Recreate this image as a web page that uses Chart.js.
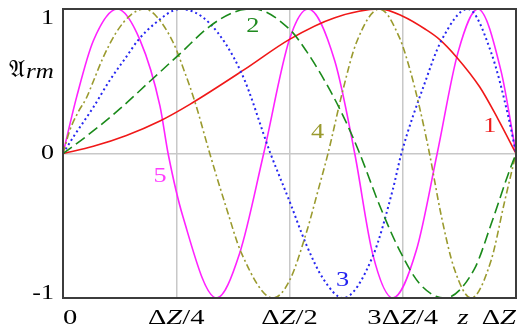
<!DOCTYPE html>
<html>
<head>
<meta charset="utf-8">
<script src="https://cdn.jsdelivr.net/npm/chart.js@4.4.1/dist/chart.umd.min.js"></script>
<style>
  html, body { margin: 0; padding: 0; background: #fff; }
  #wrap { width: 522px; height: 328px; }
</style>
</head>
<body>
<div id="wrap"><canvas id="modes" width="522" height="328"></canvas></div>
<script>
// ── DATA: z as fraction of ΔZ, value of mode shape ──
const redZ = [0, 0.067, 0.14, 0.214, 0.28, 0.4, 0.5, 0.6, 0.7, 0.75, 0.8, 0.831, 0.868, 0.92, 0.96, 1];
const redV = [0, 0.05, 0.125, 0.225, 0.34, 0.58, 0.79, 0.94, 1, 0.95, 0.86, 0.79, 0.67, 0.46, 0.24, 0];

const greenZ = [0, 0.052, 0.126, 0.192, 0.258, 0.324, 0.379, 0.42, 0.5, 0.537, 0.589, 0.626, 0.655, 0.699, 0.743, 0.787, 0.842, 0.908, 0.945, 0.982, 1];
const greenV = [0, 0.12, 0.31, 0.5, 0.69, 0.88, 0.98, 1, 0.86, 0.71, 0.44, 0.21, 0, -0.36, -0.67, -0.9, -1, -0.8, -0.49, -0.15, 0];

const blueZ = [0, 0.023, 0.067, 0.104, 0.14, 0.166, 0.203, 0.258, 0.324, 0.395, 0.458, 0.5, 0.537, 0.575, 0.618, 0.684, 0.728, 0.747, 0.8, 0.835, 0.894, 0.945, 0.982, 1];
const blueV = [0, 0.115, 0.32, 0.51, 0.67, 0.785, 0.9, 1, 0.9, 0.55, 0, -0.33, -0.63, -0.87, -1, -0.71, -0.25, 0, 0.5, 0.78, 1, 0.7, 0.27, 0];

const oliveZ = [0, 0.015, 0.034, 0.051, 0.067, 0.088, 0.118, 0.15, 0.18, 0.203, 0.243, 0.269, 0.291, 0.324, 0.361, 0.394, 0.464, 0.5, 0.537, 0.567, 0.585, 0.618, 0.648, 0.699, 0.743, 0.765, 0.787, 0.809, 0.835, 0.864, 0.901, 0.945, 0.975, 1];
const oliveV = [0, 0.16, 0.29, 0.38, 0.5, 0.66, 0.84, 0.96, 1, 0.96, 0.77, 0.56, 0.36, 0, -0.38, -0.69, -1, -0.88, -0.55, -0.21, 0, 0.44, 0.77, 1, 0.8, 0.59, 0.32, 0, -0.43, -0.8, -1, -0.74, -0.33, 0];

const magentaZ = [0, 0.03, 0.067, 0.12, 0.17, 0.214, 0.232, 0.265, 0.339, 0.39, 0.443, 0.5, 0.541, 0.6, 0.644, 0.684, 0.728, 0.78, 0.826, 0.872, 0.916, 0.967, 1];
const magentaV = [0, 0.39, 0.78, 1, 0.785, 0.33, 0, -0.44, -1, -0.69, 0, 0.79, 1, 0.64, 0, -0.7, -1, -0.67, 0, 0.7, 1, 0.57, 0];

const xTickValues = [0, 0.25, 0.5, 0.75, 1];
const xTickLabels = ['0', 'ΔZ/4', 'ΔZ/2', '3ΔZ/4', 'ΔZ'];
const yTickValues = [-1, 0, 1];
const yTickLabels = ['-1', '0', '1'];
const xTitle = 'z';
const yTitle = ['𝔄', 'rm'];

// curve numbers, placed in data coordinates
const curveLabels = [
  { text: '1', z: 0.942, v: 0.186, color: '#ee1c1c' },
  { text: '2', z: 0.419, v: 0.876, color: '#1f8a1f' },
  { text: '3', z: 0.617, v: -0.876, color: '#2323f0' },
  { text: '4', z: 0.562, v: 0.145, color: '#9a9a2e' },
  { text: '5', z: 0.214, v: -0.159, color: '#ff3cff' }
];

const pts = (zs, vs) => zs.map((z, i) => ({ x: z, y: vs[i] }));

const SERIF = "'Liberation Serif', 'DejaVu Serif', serif";
const STRETCH = 1.3;

// draws text char by char, Z/z in italics, squeezed wider like the source
function drawMath(ctx, str, x, y, size, align, baseline, stretch) {
  const sx = stretch || STRETCH;
  const fontOf = ch => ((/[Zzrm]/.test(ch) ? 'italic ' : '') + size + 'px ' + SERIF);
  let w = 0;
  for (const ch of str) { ctx.font = fontOf(ch); w += ctx.measureText(ch).width; }
  let x0 = x;
  if (align === 'center') x0 = x - w * sx / 2;
  if (align === 'right') x0 = x - w * sx;
  ctx.save();
  ctx.translate(x0, y);
  ctx.scale(sx, 1);
  ctx.textAlign = 'left';
  ctx.textBaseline = baseline;
  let cx = 0;
  for (const ch of str) {
    ctx.font = fontOf(ch);
    ctx.fillText(ch, cx, 0);
    cx += ctx.measureText(ch).width;
  }
  ctx.restore();
}

const overlay = {
  id: 'overlay',
  afterDatasetsDraw(chart) {
    const { ctx, chartArea: a, scales: { x, y } } = chart;
    ctx.save();

    // frame
    ctx.strokeStyle = '#3c3c3c';
    ctx.lineWidth = 2;
    ctx.strokeRect(a.left, a.top, a.right - a.left, a.bottom - a.top);

    // x tick labels
    ctx.fillStyle = '#000';
    xTickValues.forEach((v, i) => {
      const px = x.getPixelForValue(v);
      const align = i === 0 ? 'left' : (i === xTickValues.length - 1 ? 'right' : 'center');
      drawMath(ctx, xTickLabels[i], px, a.bottom + 26, 22, align, 'alphabetic');
    });
    drawMath(ctx, xTitle, x.getPixelForValue(0.883), a.bottom + 26, 22, 'center', 'alphabetic');

    // y tick labels
    yTickValues.forEach((v, i) => {
      const py = y.getPixelForValue(v);
      const base = v === 1 ? 'top' : (v === 0 ? 'middle' : 'alphabetic');
      drawMath(ctx, yTickLabels[i], a.left - 9, py + (v === -1 ? 1 : 0), 20, 'right', base);
    });

    // y title: fraktur A + italic rm
    const ty = y.getPixelForValue(0.57);
    ctx.font = '24px ' + SERIF;
    ctx.textBaseline = 'middle';
    ctx.textAlign = 'left';
    ctx.fillText(yTitle[0], 9, ty);
    const aw = ctx.measureText(yTitle[0]).width;
    drawMath(ctx, yTitle[1], 9 + aw + 1, ty + 2, 20, 'left', 'middle', 1.25);

    // curve numbers
    curveLabels.forEach(l => {
      ctx.fillStyle = l.color;
      drawMath(ctx, l.text, x.getPixelForValue(l.z), y.getPixelForValue(l.v), 21, 'center', 'middle', 1.25);
    });

    ctx.restore();
  }
};

const gridColor = '#c8c8c8';

new Chart(document.getElementById('modes').getContext('2d'), {
  type: 'line',
  data: {
    datasets: [
      { label: '2', data: pts(greenZ, greenV), borderColor: '#1a8a1a', borderWidth: 1.6, borderDash: [11, 5] },
      { label: '4', data: pts(oliveZ, oliveV), borderColor: '#9a9a2e', borderWidth: 1.6, borderDash: [7, 3, 2, 3] },
      { label: '3', data: pts(blueZ, blueV), borderColor: '#2626f0', borderWidth: 2, borderDash: [2, 3] },
      { label: '1', data: pts(redZ, redV), borderColor: '#f01818', borderWidth: 1.6 },
      { label: '5', data: pts(magentaZ, magentaV), borderColor: '#ff22ff', borderWidth: 1.6 }
    ]
  },
  options: {
    responsive: false,
    animation: false,
    devicePixelRatio: 1,
    layout: { padding: { left: 63, right: 6, top: 9, bottom: 30 } },
    elements: {
      point: { radius: 0 },
      line: { cubicInterpolationMode: 'monotone', fill: false }
    },
    plugins: { legend: { display: false }, tooltip: { enabled: false } },
    scales: {
      x: {
        type: 'linear', min: 0, max: 1,
        afterBuildTicks: s => { s.ticks = xTickValues.map(v => ({ value: v })); },
        ticks: { display: false },
        grid: { color: gridColor, lineWidth: 1.5, drawTicks: false },
        border: { display: false }
      },
      y: {
        type: 'linear', min: -1, max: 1,
        afterBuildTicks: s => { s.ticks = yTickValues.map(v => ({ value: v })); },
        ticks: { display: false },
        grid: { color: gridColor, lineWidth: 1.5, drawTicks: false },
        border: { display: false }
      }
    }
  },
  plugins: [overlay]
});
</script>
</body>
</html>
